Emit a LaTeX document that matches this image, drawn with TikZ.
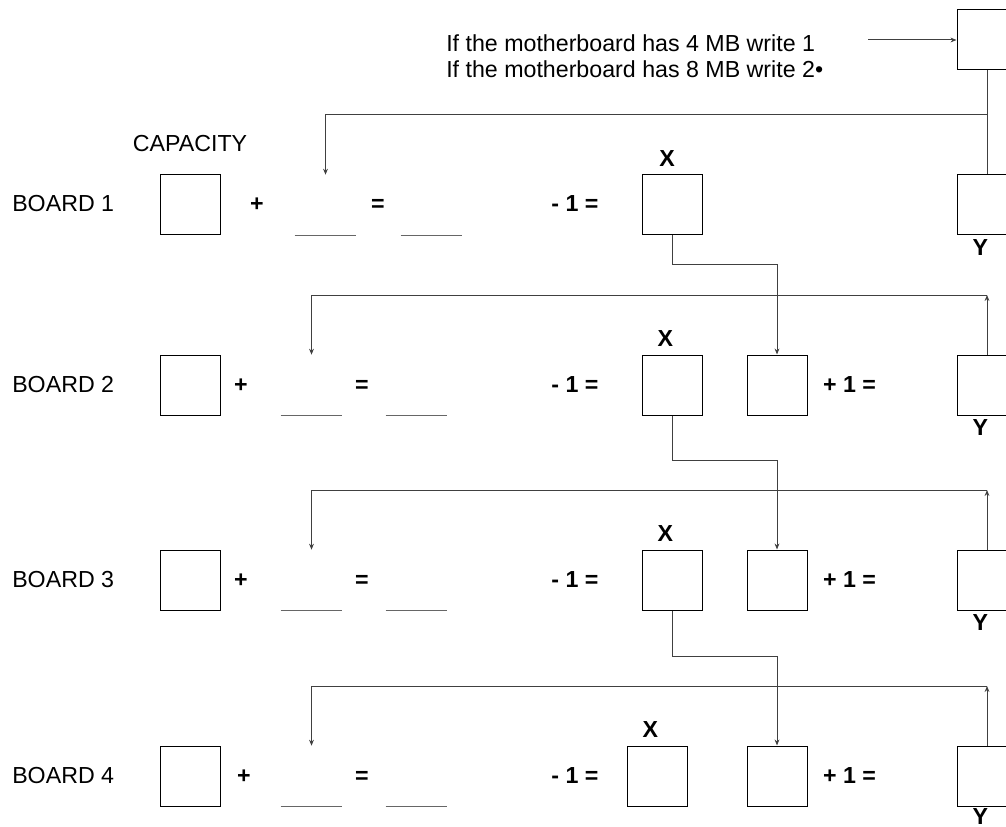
\documentclass[tikz,border=0pt]{standalone}
\usepackage{fontspec}
\setmainfont{Liberation Sans}
\usetikzlibrary{positioning,arrows.meta}

\newcommand{\lbfont}{\fontsize{17.4}{20}\selectfont}
\tikzset{
  cell/.style={draw, line width=0.75pt, minimum width=45pt, minimum height=45pt, inner sep=0pt},
  gap/.style={minimum width=45.75pt, minimum height=45pt, inner sep=0pt},
  txt/.style={font=\lbfont, anchor=base west, inner sep=0pt},
  op/.style={font=\lbfont\bfseries, anchor=base, inner sep=0pt},
  wire/.style={black!75, line width=0.75pt},
}
\newcommand{\blankline}[2]{%
 \node[gap] ({#1}) at ({#2}) {};%
 \draw[black!60, line width=0.75pt] ({#1}.south west) -- ({#1}.south east);%
}

\begin{document}
\begin{tikzpicture}[x=0.75pt, y=-0.75pt, >={Stealth[length=4.5pt,width=3.6pt]}]
  \clip (0,0) rectangle (1006,827);
  % question at the top
  \node[txt] (q1) at (446,52) {If the motherboard has 4 MB write 1};
  \node[txt] (q2) at (446,78) {If the motherboard has 8 MB write 2•};
  \node[cell] (mb) at (987,40) {};
  \coordinate (q0) at (868,40);
  \draw[wire,->] (q0) -- (mb);
  % board 1
  \node[txt] (b1) at (12,212) {BOARD 1};
  \node[cell] (c1) at (190,205) {};
  \node[txt, above=17.25pt of c1] (cap) {CAPACITY};
  \node[op] (p1) at (257,212) {+};
  \blankline{m1}{325.5,205}
  \node[op] (e1) at (378,212) {=};
  \blankline{s1}{431.5,205}
  \node[op] (d1) at (575,212) {- 1 =};
  \node[cell] (x1) at (672.5,205) {};
  \node[cell] (y1) at (987,205) {};
  \node[op, above=6pt of x1, xshift=-4pt] (xl1) {X};
  \node[op, below=3pt of y1, xshift=-5pt] (yl1) {Y};
  \coordinate (j1) at (987,115);
  \draw[wire] (mb) -- (y1);
  \draw[wire,->] (j1) -- (m1.north |- j1) -- (m1.north);
  % boards 2 to 4
  \foreach \r/\yc/\xc/\pc/\yg in {2/385/672/241/3pt, 3/580/672/241/3pt, 4/776/657/244/1pt} {
    \node[txt] (b\r) at (12,\yc+7) {BOARD \r};
    \node[cell] (c\r) at (190,\yc) {};
    \node[op] (p\r) at (\pc,\yc+7) {+};
    \blankline{m\r}{311.5,\yc}
    \node[op] (e\r) at (362,\yc+7) {=};
    \blankline{s\r}{416.5,\yc}
    \node[op] (d\r) at (575,\yc+7) {- 1 =};
    \node[cell] (x\r) at (\xc,\yc) {};
    \node[cell] (n\r) at (777,\yc) {};
    \node[op] (a\r) at (849.5,\yc+7) {+ 1 =};
    \node[cell] (y\r) at (987,\yc) {};
    \node[op, above=6pt of x\r, xshift=-5pt] (xl\r) {X};
    \node[op, below=\yg of y\r, xshift=-5pt] (yl\r) {Y};
    \coordinate (j\r) at (987,\yc-90);
    \draw[wire,->] (y\r) -- (j\r);
    \draw[wire,->] (j\r) -- (m\r.north |- j\r) -- (m\r.north);
  }
  % X of one board goes into the next one
  \foreach \r/\s/\k in {1/2/265, 2/3/460, 3/4/656} {
    \coordinate (k\r) at (0,\k);
    \draw[wire,->] (x\r.south) -- (x\r.south |- k\r) -- (n\s.north |- k\r) -- (n\s.north);
  }
\end{tikzpicture}
\end{document}
